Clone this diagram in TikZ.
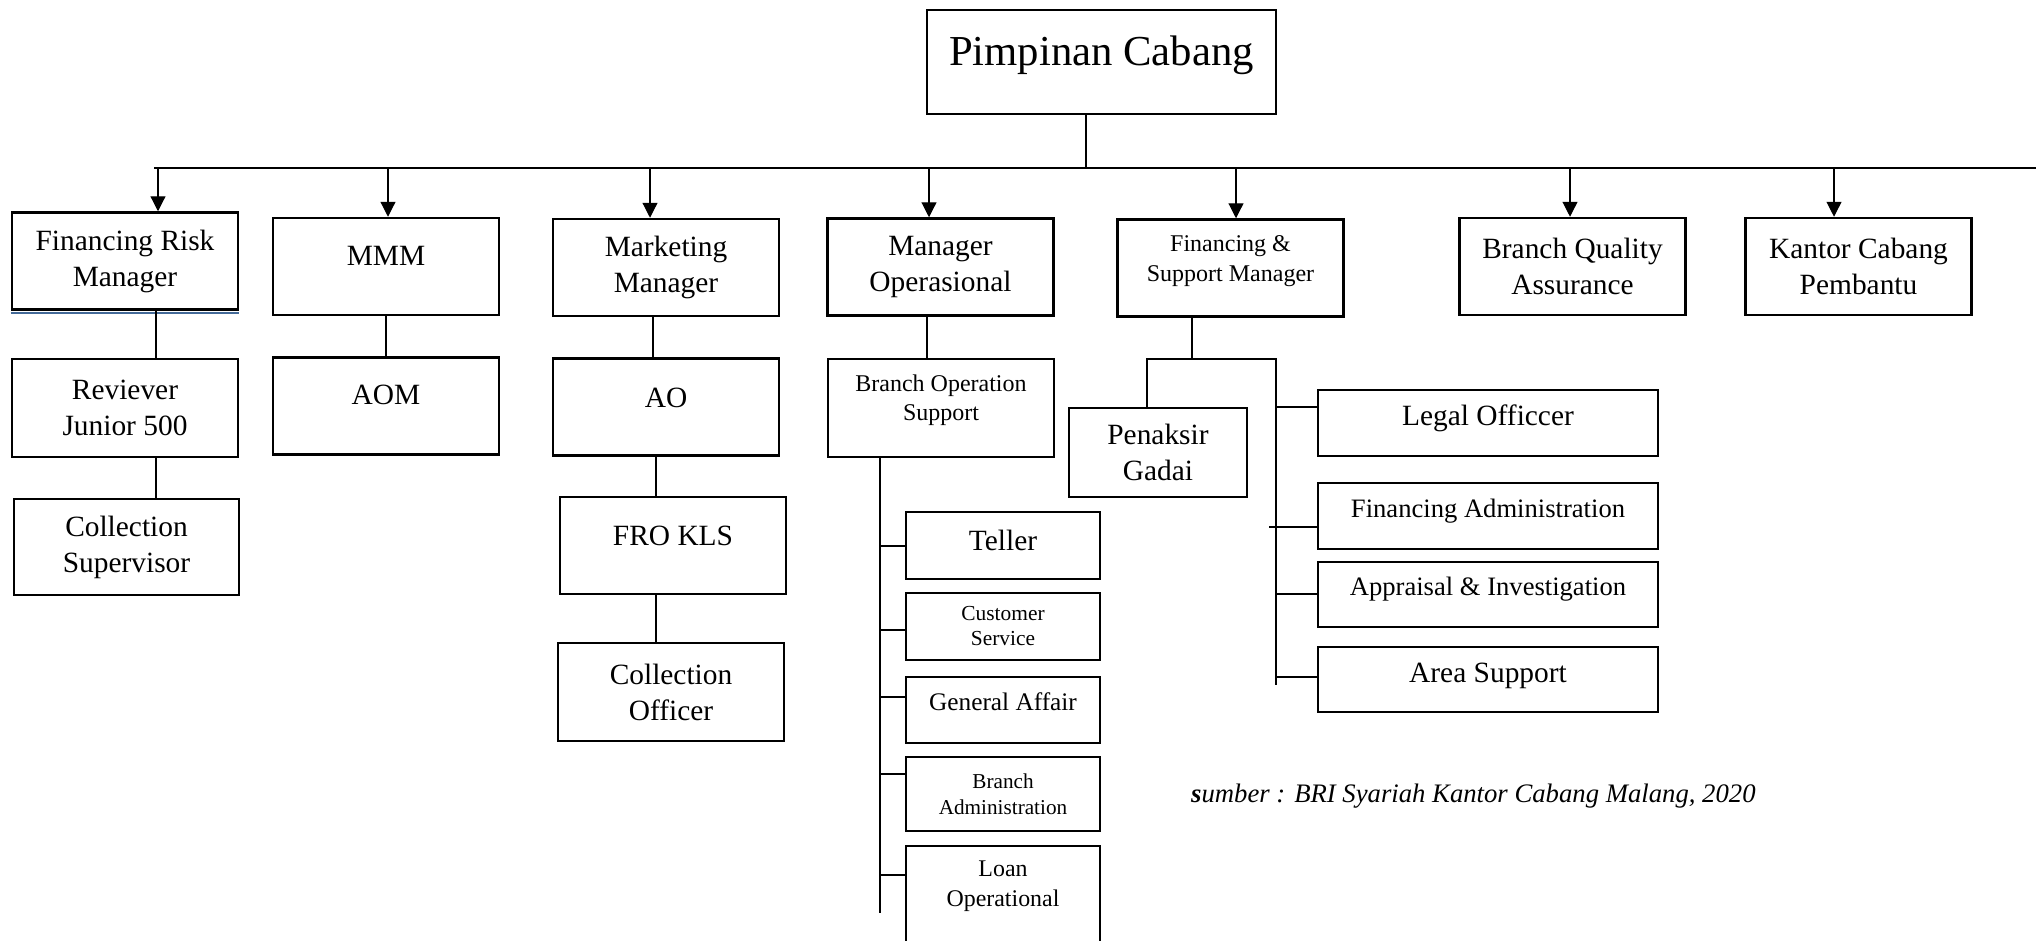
\documentclass[tikz,border=0pt]{standalone}
\usepackage{fontspec}
\setmainfont{Liberation Serif}
\usetikzlibrary{arrows.meta,positioning}

\definecolor{underblue}{RGB}{68,106,152}
\newcommand{\fsz}[2]{\fontsize{#1}{#2}\selectfont}

\begin{document}
\begin{tikzpicture}[x=1pt,y=-1pt,
    unit/.style={draw, line width=2.5pt, inner sep=0pt, align=center,
      minimum width=226, minimum height=97, font=\fsz{29.4}{36}},
    wide/.style={unit, minimum width=340, minimum height=66},
    sub/.style={unit, minimum width=194, minimum height=67},
    lift/.style={text depth=#1},
    link/.style={line width=1.2pt},
    down/.style={link, -{Triangle[length=15pt,width=15pt]}}]
  \useasboundingbox (0,0) rectangle (2036,940);
  \clip (0,0) rectangle (2036,940);

  % head
  \node[unit, minimum width=349, minimum height=104, font=\fsz{42.7}{50}, lift=23] (pc) at (1101.5,62) {Pimpinan Cabang};

  % first row
  \node[unit] (frm) at (125,261) {Financing Risk\\Manager};
  \node[unit, lift=21] (mmm) at (386,266.5) {MMM};
  \node[unit] (mkm) at (666,267.5) {Marketing\\Manager};
  \node[unit] (mop) at (940.5,267) {Manager\\Operasional};
  \node[unit, font=\fsz{24}{30}, lift=19] (fsm) at (1230.5,268) {Financing \&\\Support Manager};
  \node[unit] (bqa) at (1572.5,266.5) {Branch Quality\\Assurance};
  \node[unit] (kcp) at (1858.5,266.5) {Kantor Cabang\\Pembantu};
  \draw[underblue, line width=2pt] ([yshift=-2pt]frm.south west) -- ([yshift=-2pt]frm.south east);

  % second row
  \node[unit, minimum height=98] (rev) at (125,408) {Reviever\\Junior 500};
  \node[unit, lift=22] (aom) at (386,406) {AOM};
  \node[unit, lift=18] (ao) at (666,407) {AO};
  \node[unit, minimum height=98, font=\fsz{24}{28.6}, lift=21] (bos) at (941,408) {Branch Operation\\Support};
  \node[unit, minimum width=178, minimum height=89] (pg) at (1158,452.5) {Penaksir\\Gadai};
  \node[wide, lift=16] (lo) at (1488,423) {Legal Officcer};

  % third row and below
  \node[unit, minimum width=225, minimum height=96] (cs) at (126.5,547) {Collection\\Supervisor};
  \node[unit, lift=20] (fro) at (673,545.5) {FRO KLS};
  \node[unit, minimum height=98] (co) at (671,692) {Collection\\Officer};
  \node[wide, font=\fsz{26.6}{32}, lift=16] (fa) at (1488,516) {Financing Administration};
  \node[wide, minimum height=65, font=\fsz{26.6}{32}, lift=16] (ai) at (1488,594.5) {Appraisal \& Investigation};
  \node[wide, minimum height=65, lift=14] (ars) at (1488,679.5) {Area Support};

  % operation support column
  \node[sub, lift=10] (tel) at (1003,545.5) {Teller};
  \node[sub, font=\fsz{21.4}{25}] (cus) at (1003,626.5) {Customer\\Service};
  \node[sub, minimum height=66, font=\fsz{25.3}{30}, lift=16] (ga) at (1003,710) {General Affair};
  \node[sub, minimum height=74, font=\fsz{21.2}{26}] (ba) at (1003,794) {Branch\\Administration};
  \node[sub, minimum height=106, font=\fsz{23.9}{30}, lift=31] (lop) at (1003,899) {Loan\\Operational};

  \node[anchor=west, inner sep=0pt, font=\fsz{26.7}{32}\itshape] (src) at (1191,796) {\textbf{s}umber : BRI Syariah Kantor Cabang Malang, 2020};

  % main bus
  \coordinate (bus) at (1086,168);
  \coordinate (busL) at (154,168);
  \coordinate (busR) at (2036,168);
  \draw[link] (pc.south -| bus) -- (bus);
  \draw[link] (busL) -- (bus);
  \draw[link, line width=1.8pt] (bus) -- (busR);
  \foreach \xx/\nm in {158/frm, 388/mmm, 650/mkm, 929/mop, 1236/fsm, 1570/bqa, 1834/kcp}{
    \coordinate (drop) at (\xx,168);
    \draw[down] (drop) -- (drop |- \nm.north);
  }

  % vertical links
  \coordinate (c1) at (156,0);
  \coordinate (c2) at (386,0);
  \coordinate (c3) at (653,0);
  \coordinate (c4) at (656,0);
  \coordinate (c5) at (927,0);
  \draw[link] (frm.south -| c1) -- (rev.north -| c1);
  \draw[link] (rev.south -| c1) -- (cs.north -| c1);
  \draw[link] (mmm.south -| c2) -- (aom.north -| c2);
  \draw[link] (mkm.south -| c3) -- (ao.north -| c3);
  \draw[link] (ao.south -| c4) -- (fro.north -| c4);
  \draw[link] (fro.south -| c4) -- (co.north -| c4);
  \draw[link] (mop.south -| c5) -- (bos.north -| c5);

  % operation support bus
  \coordinate (obus) at (880,913);
  \draw[link] (bos.south -| obus) -- (obus);
  \foreach \yy/\nm in {546/tel, 630/cus, 697/ga, 774/ba, 875/lop}{
    \coordinate (tick) at (880,\yy);
    \draw[link] (tick) -- (tick -| \nm.west);
  }

  % financing support bus
  \coordinate (f1) at (1192,359);
  \coordinate (f2) at (1147,359);
  \coordinate (f3) at (1276,359);
  \coordinate (f4) at (1276,685);
  \draw[link] (fsm.south -| f1) -- (f1);
  \draw[link] (pg.north -| f2) -- (f2) -- (f3) -- (f4);
  \foreach \yy/\nm in {407/lo, 594/ai, 677/ars}{
    \coordinate (tick) at (1276,\yy);
    \draw[link] (tick) -- (tick -| \nm.west);
  }
  \coordinate (fatick) at (1269,527);
  \draw[link] (fatick) -- (fatick -| fa.west);
\end{tikzpicture}
\end{document}
